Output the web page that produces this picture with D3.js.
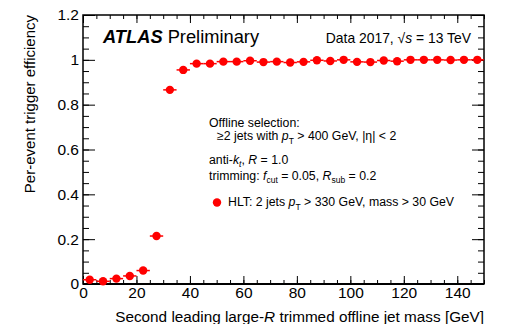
<!DOCTYPE html>
<html>
<head>
<meta charset="utf-8">
<style>
  body { margin: 0; background: #fff; }
  svg { font-family: "Liberation Sans", Arial, sans-serif; }
  .axis .domain { display: none; }
  .axis .tick line { stroke: #000; stroke-width: 1; }
  .axis .tick text { font-size: 15.5px; fill: #000; }
  .leg { font-size: 12.3px; fill: #000; }
</style>
</head>
<body>
<svg width="514" height="324"></svg>
<script src="https://d3js.org/d3.v7.min.js"></script>
<script>
// bin centres (5 GeV bins) and measured efficiency
let massBins = [2.5, 7.5, 12.5, 17.5, 22.5, 27.5, 32.5, 37.5, 42.5, 47.5,
                52.5, 57.5, 62.5, 67.5, 72.5, 77.5, 82.5, 87.5, 92.5, 97.5,
                102.5, 107.5, 112.5, 117.5, 122.5, 127.5, 132.5, 137.5, 142.5, 147.5]
let efficiency = [0.019, 0.012, 0.024, 0.036, 0.060, 0.214, 0.866, 0.955, 0.983, 0.983,
                  0.992, 0.992, 0.996, 0.990, 0.992, 0.988, 0.991, 0.998, 0.995, 1.000,
                  0.991, 0.990, 0.997, 0.994, 1.000, 1.000, 1.000, 0.999, 1.000, 1.000]
let effError = [0.004, 0.003, 0.004, 0.005, 0.006, 0.010, 0.008, 0.006, 0.004, 0.004,
                0.003, 0.003, 0.003, 0.003, 0.003, 0.003, 0.003, 0.003, 0.003, 0.002,
                0.003, 0.003, 0.002, 0.003, 0.001, 0.001, 0.001, 0.001, 0.001, 0.001]
let binHalfWidth = 2.5

let xTicks = [0, 20, 40, 60, 80, 100, 120, 140]
let xMinorTicks = d3.range(0, 151, 5)
let yTicks = [0, 0.2, 0.4, 0.6, 0.8, 1, 1.2]
let yMinorTicks = d3.range(0, 25).map(i => i * 0.05)

let svg = d3.select("svg")
let margin = { left: 83, top: 15, right: 30, bottom: 40 }
let width = 514 - margin.left - margin.right   // 401
let height = 324 - margin.top - margin.bottom  // 269

let g = svg.append("g").attr("transform", `translate(${margin.left},${margin.top})`)

let x = d3.scaleLinear().domain([0, 150]).range([0, width])
let y = d3.scaleLinear().domain([0, 1.2]).range([height, 0])

// axes: ticks point inward on all four sides
g.append("g").attr("class", "axis")
    .attr("transform", `translate(0,${height})`)
    .call(d3.axisBottom(x).tickValues(xTicks).tickSize(-8).tickPadding(3).tickFormat(d3.format("d")))
g.append("g").attr("class", "axis")
    .attr("transform", `translate(0,${height})`)
    .call(d3.axisBottom(x).tickValues(xMinorTicks).tickSize(-4).tickFormat(""))
g.append("g").attr("class", "axis")
    .call(d3.axisTop(x).tickValues(xTicks).tickSize(-8).tickFormat(""))
g.append("g").attr("class", "axis")
    .call(d3.axisTop(x).tickValues(xMinorTicks).tickSize(-4).tickFormat(""))

g.append("g").attr("class", "axis")
    .call(d3.axisLeft(y).tickValues(yTicks).tickSize(-12).tickPadding(4).tickFormat(d => +d.toFixed(1)))
g.append("g").attr("class", "axis")
    .call(d3.axisLeft(y).tickValues(yMinorTicks).tickSize(-6).tickFormat(""))
g.append("g").attr("class", "axis")
    .attr("transform", `translate(${width},0)`)
    .call(d3.axisRight(y).tickValues(yTicks).tickSize(-12).tickFormat(""))
g.append("g").attr("class", "axis")
    .attr("transform", `translate(${width},0)`)
    .call(d3.axisRight(y).tickValues(yMinorTicks).tickSize(-6).tickFormat(""))

// frame
g.append("rect")
    .attr("width", width).attr("height", height)
    .attr("fill", "none").attr("stroke", "#000").attr("stroke-width", 1.5)
g.append("line")
    .attr("x1", 0).attr("x2", width).attr("y1", height).attr("y2", height)
    .attr("stroke", "#000").attr("stroke-width", 2)

// data points with error bars
let data = massBins.map((m, i) => ({ m: m, e: efficiency[i], err: effError[i] }))
let pts = g.append("g")
pts.selectAll(".hbar").data(data).join("line")
    .attr("x1", d => x(d.m - binHalfWidth)).attr("x2", d => x(d.m + binHalfWidth))
    .attr("y1", d => y(d.e)).attr("y2", d => y(d.e))
    .attr("stroke", "#ff0000").attr("stroke-width", 1.5)
pts.selectAll(".vbar").data(data).join("line")
    .attr("x1", d => x(d.m)).attr("x2", d => x(d.m))
    .attr("y1", d => y(Math.min(d.e + d.err, 1.2))).attr("y2", d => y(d.e - d.err))
    .attr("stroke", "#ff0000").attr("stroke-width", 1.5)
pts.selectAll("circle").data(data).join("circle")
    .attr("cx", d => x(d.m)).attr("cy", d => y(d.e)).attr("r", 4.2)
    .attr("fill", "#ff0000")

// axis titles
svg.append("text")
    .attr("transform", "rotate(-90)")
    .attr("x", -margin.top).attr("y", 35)
    .attr("text-anchor", "end")
    .style("font-size", "15px")
    .text("Per-event trigger efficiency")

let xt = svg.append("text")
    .attr("x", margin.left + width).attr("y", 322)
    .attr("text-anchor", "end")
    .style("font-size", "15.3px")
xt.append("tspan").text("Second leading large-")
xt.append("tspan").style("font-style", "italic").text("R")
xt.append("tspan").text(" trimmed offline jet mass [GeV]")

// ATLAS label
let atl = svg.append("text").attr("x", 103).attr("y", 43).style("font-size", "18.3px")
atl.append("tspan").style("font-weight", "bold").style("font-style", "italic").text("ATLAS")
atl.append("tspan").text(" Preliminary")

let dt = svg.append("text").attr("x", 471).attr("y", 43)
    .attr("text-anchor", "end").style("font-size", "13.9px")
dt.append("tspan").text("Data 2017, √")
dt.append("tspan").style("font-style", "italic").text("s")
dt.append("tspan").text(" = 13 TeV")

// selection text
svg.append("text").attr("class", "leg").attr("x", 209).attr("y", 127).text("Offline selection:")
let l2 = svg.append("text").attr("class", "leg").attr("x", 217).attr("y", 140)
l2.append("tspan").text("≥2 jets with ")
l2.append("tspan").style("font-style", "italic").text("p")
l2.append("tspan").attr("dy", 4).style("font-size", "8.5px").text("T")
l2.append("tspan").attr("dy", -4).text(" > 400 GeV, |η| < 2")

let l3 = svg.append("text").attr("class", "leg").attr("x", 209).attr("y", 164)
l3.append("tspan").text("anti-")
l3.append("tspan").style("font-style", "italic").text("k")
l3.append("tspan").attr("dy", 3).style("font-size", "8.5px").style("font-style", "italic").text("t")
l3.append("tspan").attr("dy", -3).text(", ")
l3.append("tspan").style("font-style", "italic").text("R")
l3.append("tspan").text(" = 1.0")

let l4 = svg.append("text").attr("class", "leg").attr("x", 209).attr("y", 180)
l4.append("tspan").text("trimming: ")
l4.append("tspan").style("font-style", "italic").text("f")
l4.append("tspan").attr("dy", 3).style("font-size", "8.5px").text("cut")
l4.append("tspan").attr("dy", -3).text(" = 0.05, ")
l4.append("tspan").style("font-style", "italic").text("R")
l4.append("tspan").attr("dy", 3).style("font-size", "8.5px").text("sub")
l4.append("tspan").attr("dy", -3).text(" = 0.2")

// legend entry
svg.append("circle").attr("cx", 217).attr("cy", 202.5).attr("r", 4.2).attr("fill", "#ff0000")
let l5 = svg.append("text").attr("class", "leg").attr("x", 228).attr("y", 206)
l5.append("tspan").text("HLT: 2 jets ")
l5.append("tspan").style("font-style", "italic").text("p")
l5.append("tspan").attr("dy", 4).style("font-size", "8.5px").text("T")
l5.append("tspan").attr("dy", -4).text(" > 330 GeV, mass > 30 GeV")
</script>
</body>
</html>
